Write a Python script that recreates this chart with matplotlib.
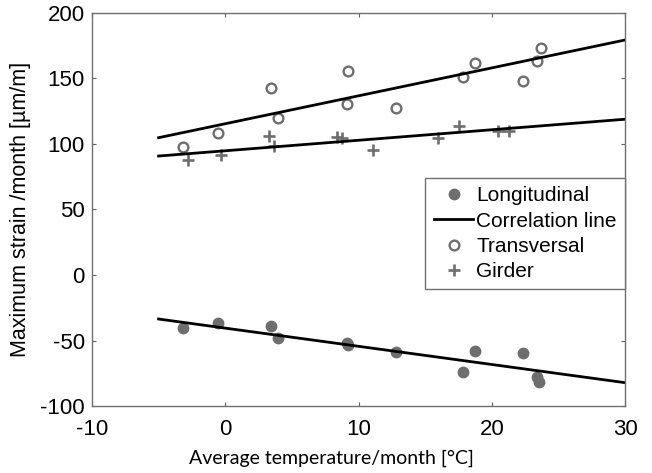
import matplotlib.pyplot as plt
import numpy as np

# temperatures (deg C) for each monthly point
temp_t = [-3.15, -0.57, 3.43, 3.98, 9.18, 9.13, 12.8, 17.85, 18.73, 22.36, 23.35, 23.65]
transversal = [98, 108, 142.5, 120, 155.7, 130.5, 127.7, 151.4, 161.6, 148.3, 163.4, 173.5]

temp_g = [-2.82, -0.32, 3.3, 3.65, 8.35, 8.73, 11.05, 15.98, 17.5, 20.48, 21.3]
girder = [87.8, 91.6, 106.3, 98.7, 105.6, 104.8, 95.4, 104.3, 114, 110.2, 110.2]

temp_l = [-3.15, -0.57, 3.43, 3.98, 9.18, 9.13, 12.8, 17.85, 18.73, 22.36, 23.35, 23.55]
longitudinal = [-40.7, -36.9, -38.9, -48.3, -53.4, -52, -58.5, -73.8, -57.8, -59.3, -77.6, -81.5]

# correlation lines, end points
fit_x = [-5, 30]
fit_transversal = [104.8, 179.4]
fit_girder = [90.8, 118.9]
fit_longitudinal = [-33.6, -82.2]

gray = "#6e6e6e"
plt.rcParams['font.family'] = ['Liberation Sans', 'DejaVu Sans']
plt.rcParams['axes.unicode_minus'] = False

fig = plt.figure(figsize=(6.52, 4.73), dpi=100)
ax = fig.add_axes([0.141, 0.1416, 0.818, 0.831])

ax.plot(temp_l, longitudinal, "o", color=gray, markersize=7.5, label="Longitudinal")
ax.plot(fit_x, fit_longitudinal, "-", color="black", lw=2, label="Correlation line")
ax.plot(temp_t, transversal, "o", mfc="none", mec=gray, mew=1.7, markersize=7, label="Transversal")
ax.plot(temp_g, girder, "+", color=gray, mew=1.9, markersize=8.5, label="Girder")
ax.plot(fit_x, fit_transversal, "-", color="black", lw=2)
ax.plot(fit_x, fit_girder, "-", color="black", lw=2)

ax.set_xlim(-10, 30)
ax.set_ylim(-100, 200)
ax.set_xticks(np.arange(-10, 31, 10))
ax.set_yticks(np.arange(-100, 201, 50))
ax.tick_params(direction="in", length=3, width=0.8, color="#606060",
               labelsize=16, top=True, right=True)
ax.tick_params(axis="x", pad=9)
ax.tick_params(axis="y", pad=5)
for s in ax.spines.values():
    s.set_color("#707070")
    s.set_linewidth(1)

ax.set_ylabel("Maximum strain /month [µm/m]", fontsize=15.5)
ax.yaxis.set_label_coords(-0.115, 0.5)
ax.set_xlabel("Average temperature/month [°C]", fontsize=14, family=["Lato", "DejaVu Sans"])
ax.xaxis.set_label_coords(0.45, -0.112)

leg = ax.legend(loc="upper right", bbox_to_anchor=(1.0, 0.58), fontsize=15,
                handlelength=1.9, handletextpad=0.15, borderpad=0.4, labelspacing=0.3,
                fancybox=False, framealpha=1, borderaxespad=0)
leg.get_frame().set_edgecolor("#707070")
leg.get_frame().set_linewidth(1)

fig.savefig("out.png", dpi=100)
